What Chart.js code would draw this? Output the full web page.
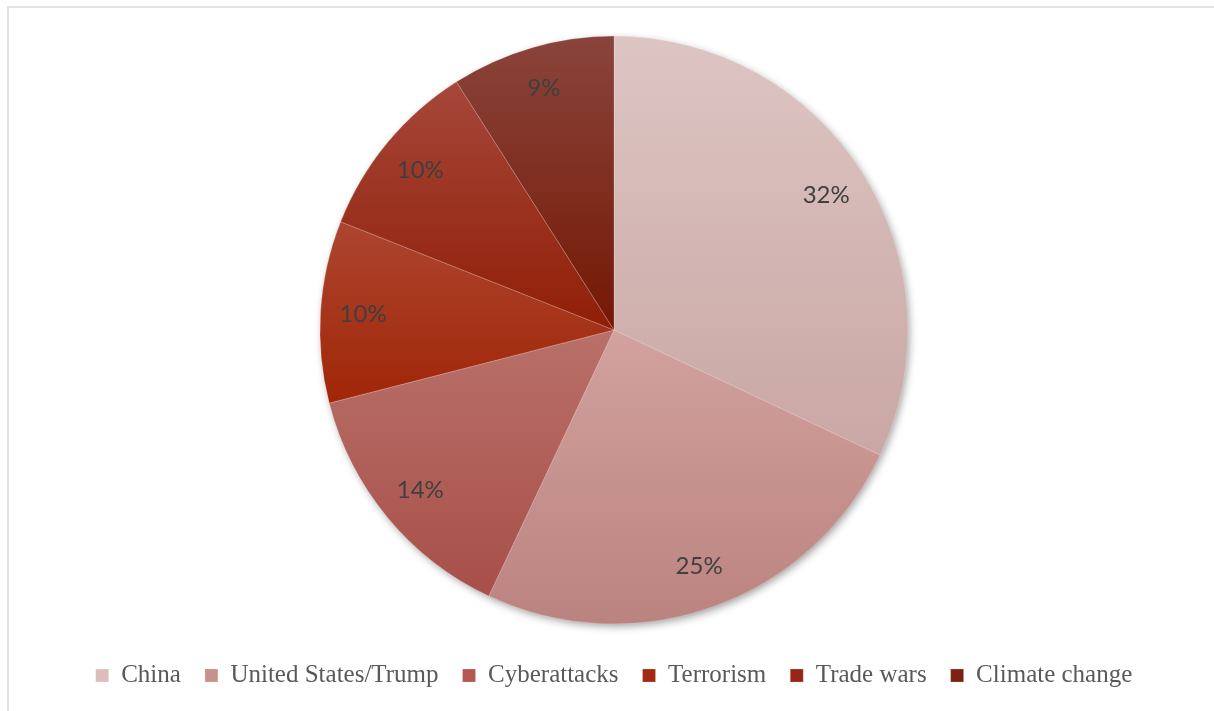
<!DOCTYPE html>
<html>
<head>
<meta charset="utf-8">
<script src="https://cdn.jsdelivr.net/npm/chart.js@4.4.0/dist/chart.umd.min.js"></script>
<style>
  html, body { margin: 0; padding: 0; background: #fff; }
  #wrap { position: relative; width: 1214px; height: 711px; overflow: hidden; }
  #frame { position: absolute; left: 7px; top: 6px; right: 0; bottom: 0;
           border-top: 2px solid #e4e4e4; border-left: 2px solid #e4e4e4; }
  #chart { position: absolute; left: 0; top: 0; }
</style>
</head>
<body>
<div id="wrap">
  <div id="frame"></div>
  <canvas id="chart" width="1214" height="711"></canvas>
</div>
<script>
// Data
const categories = ['China', 'United States/Trump', 'Cyberattacks', 'Terrorism', 'Trade wars', 'Climate change'];
const shares = [32, 25, 14, 10, 10, 9];

// Colours: flat (legend) plus top/bottom of each slice gradient
const legendColors = ['#dcbcbc', '#c9918c', '#b45752', '#a32a10', '#982614', '#7d2212'];
const topColors = ['#ddc5c3', '#d2a29e', '#b9706a', '#ad4530', '#a6473a', '#8a443c'];
const bottomColors = ['#c9a7a4', '#bb837f', '#a74f48', '#a02606', '#901e06', '#741803'];

// Shadow under the whole pie + per-slice gradients
const shadowPlugin = {
  id: 'pieShadow',
  beforeDatasetsDraw(chart) {
    const meta = chart.getDatasetMeta(0);
    if (!meta.data.length) return;
    const p = meta.data[0].getProps(['x', 'y', 'outerRadius'], true);
    const ctx = chart.ctx;
    ctx.save();
    ctx.shadowColor = 'rgba(0,0,0,0.4)';
    ctx.shadowBlur = 8;
    ctx.shadowOffsetX = 2;
    ctx.shadowOffsetY = 3;
    ctx.fillStyle = '#c8a0a0';
    ctx.beginPath();
    ctx.arc(p.x, p.y, p.outerRadius - 1, 0, Math.PI * 2);
    ctx.fill();
    ctx.restore();

    // vertical gradient per slice, over each slice's own height
    meta.data.forEach((arc, i) => {
      const a = arc.getProps(['x', 'y', 'startAngle', 'endAngle', 'outerRadius'], true);
      const ys = [a.y, a.y + Math.sin(a.startAngle) * a.outerRadius, a.y + Math.sin(a.endAngle) * a.outerRadius];
      for (let k = -2; k <= 4; k++) {
        const ang = k * Math.PI / 2;
        if (ang > a.startAngle && ang < a.endAngle) ys.push(a.y + Math.sin(ang) * a.outerRadius);
      }
      const g = ctx.createLinearGradient(0, Math.min(...ys), 0, Math.max(...ys));
      g.addColorStop(0, topColors[i]);
      g.addColorStop(1, bottomColors[i]);
      arc.options.backgroundColor = g;
    });
  }
};

// Percent labels inside slices
const labelPlugin = {
  id: 'sliceLabels',
  afterDatasetsDraw(chart) {
    const meta = chart.getDatasetMeta(0);
    const ctx = chart.ctx;
    ctx.save();
    ctx.font = '24px Lato, "Open Sans", sans-serif';
    ctx.fillStyle = '#3f3f3f';
    ctx.textAlign = 'center';
    ctx.textBaseline = 'middle';
    meta.data.forEach((arc, i) => {
      const a = arc.getProps(['x', 'y', 'startAngle', 'endAngle', 'outerRadius'], true);
      const mid = (a.startAngle + a.endAngle) / 2;
      const r = a.outerRadius * 0.855;
      ctx.fillText(shares[i] + '%', a.x + Math.cos(mid) * r, a.y + Math.sin(mid) * r);
    });
    ctx.restore();
  }
};

new Chart(document.getElementById('chart'), {
  type: 'pie',
  data: {
    labels: categories,
    datasets: [{
      data: shares,
      backgroundColor: legendColors,
      borderColor: 'rgba(255,255,255,0.2)',
      borderWidth: 1,
      radius: 294
    }]
  },
  options: {
    responsive: false,
    animation: false,
    layout: { padding: { top: 21, bottom: 13, left: 14, right: 0 } },
    plugins: {
      tooltip: { enabled: false },
      legend: {
        position: 'bottom',
        labels: {
          font: { family: '"Liberation Serif", "Times New Roman", serif', size: 25 },
          color: '#595959',
          boxWidth: 13,
          boxHeight: 13,
          padding: 24
        }
      }
    }
  },
  plugins: [shadowPlugin, labelPlugin]
});
</script>
</body>
</html>
